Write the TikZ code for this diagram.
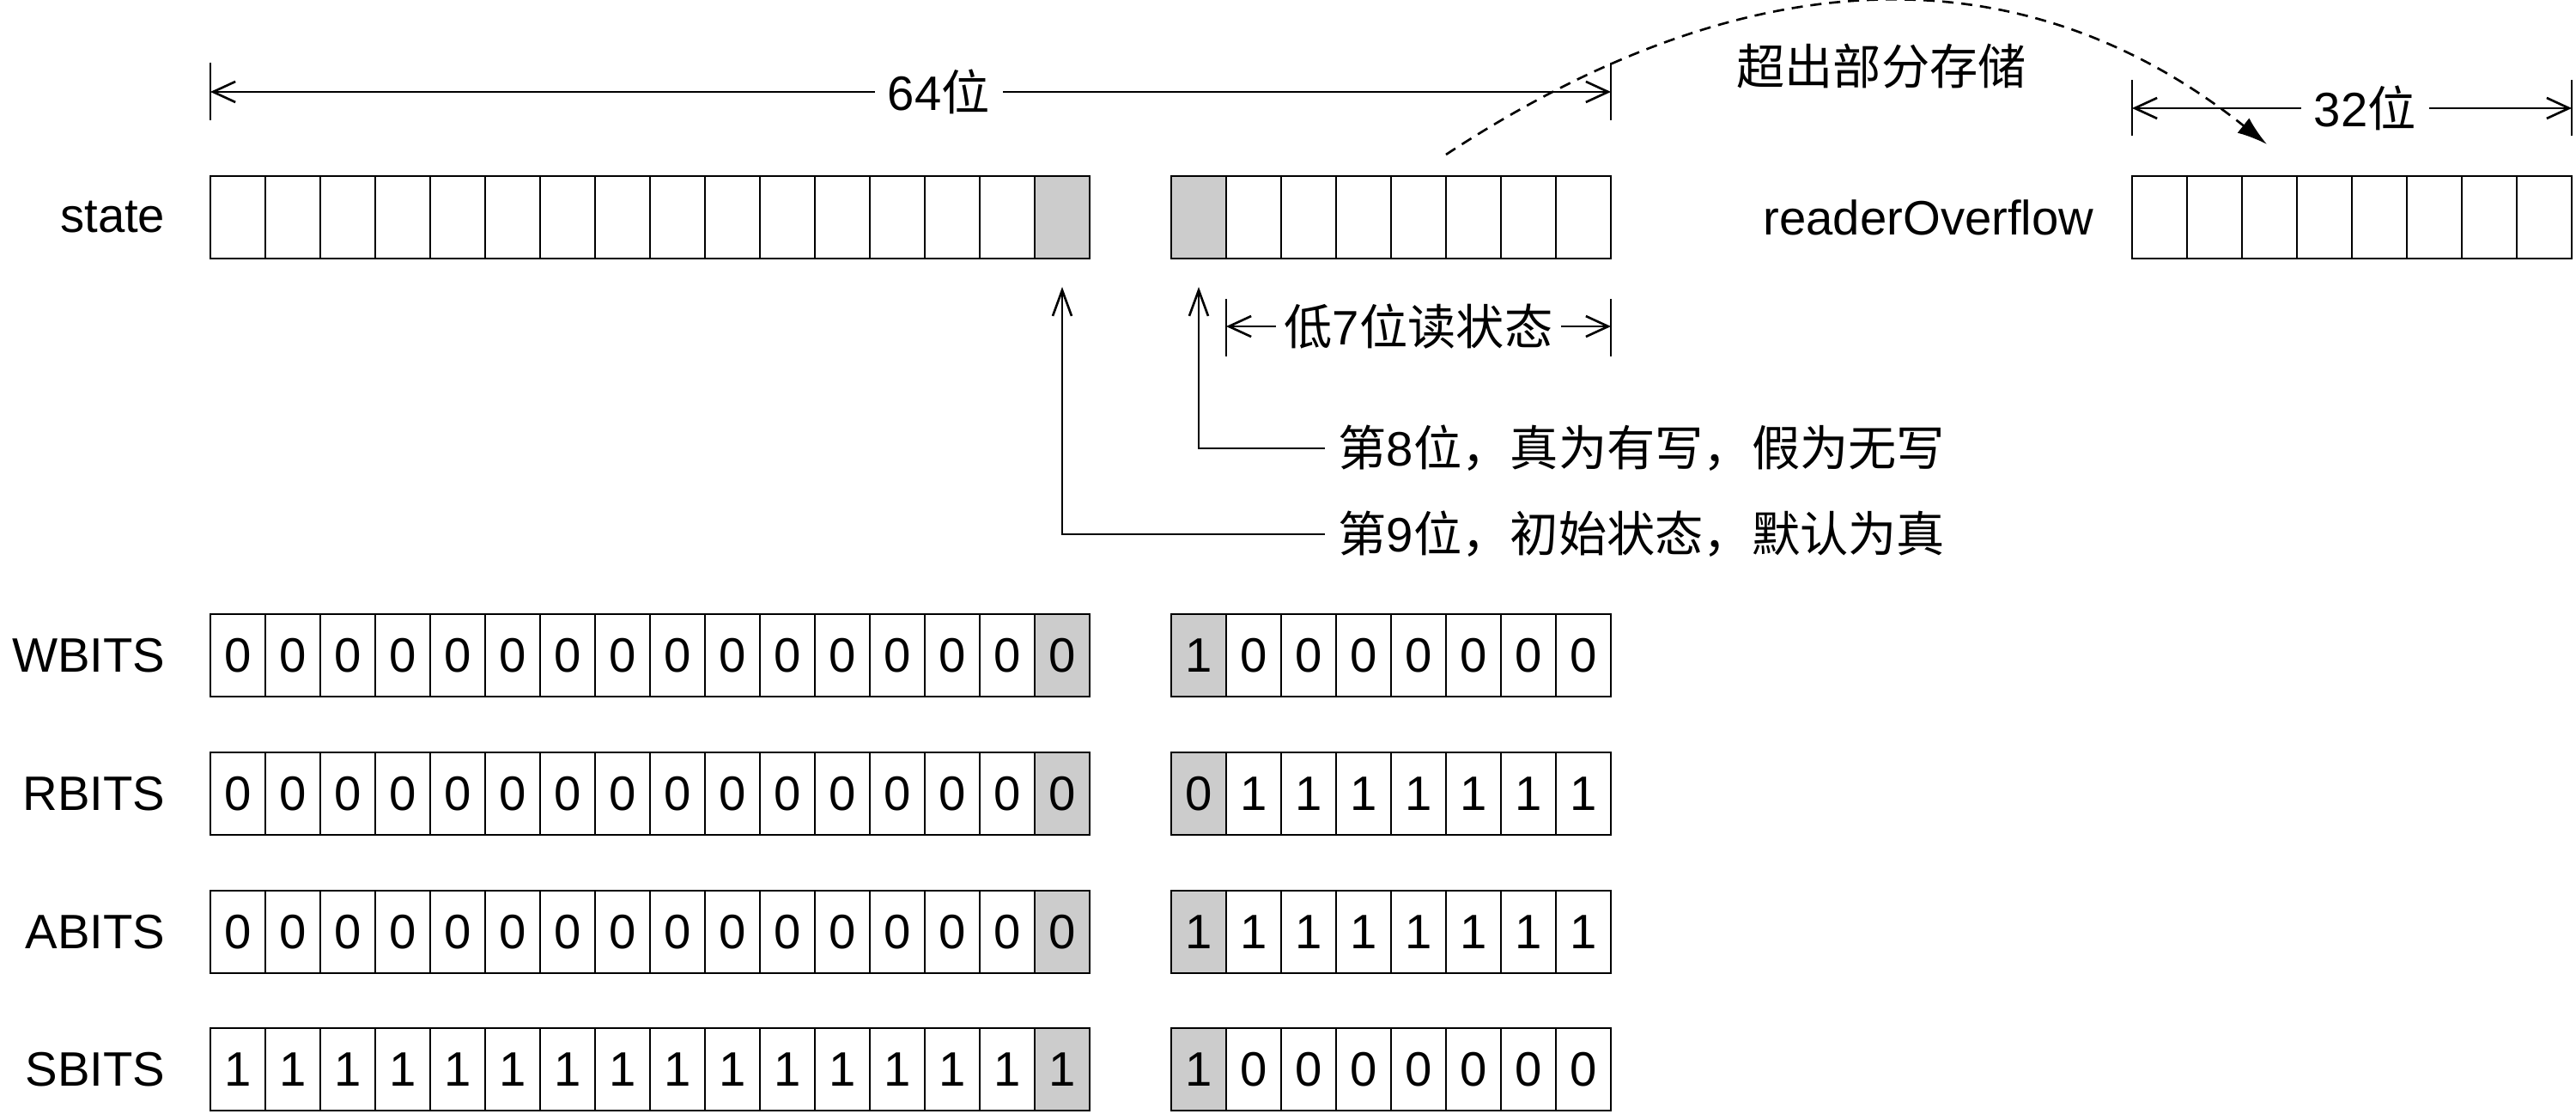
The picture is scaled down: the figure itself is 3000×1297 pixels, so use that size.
\documentclass[tikz,border=0pt]{standalone}
\usepackage{fontspec}
\setmainfont{Liberation Sans}
\newfontfamily\cjk{Noto Sans CJK SC}
\usetikzlibrary{arrows.meta, positioning, calc}
\definecolor{bitgray}{RGB}{204,204,204}

\begin{document}
\begin{tikzpicture}[
		x=0.01cm, y=-0.01cm,
		font=\fontsize{16}{20}\selectfont,
		node distance=0.5cm,
		cell/.style={draw, line width=0.8pt, minimum width=0.64cm,
			minimum height=0.96cm, inner sep=0pt, outer sep=0pt},
		rowname/.style={inner sep=0pt},
		tick/.style={line width=0.5pt},
		dim/.style={{Straight Barb[length=2.6mm, width=2.4mm]}-{Straight Barb[length=2.6mm, width=2.4mm]}, line width=0.75pt},
		dimtext/.style={fill=white, inner sep=0.15cm},
		ptr/.style={-{Straight Barb[length=3mm, width=2.2mm]}, line width=0.75pt},
		spillarrow/.style={-{Latex[length=3.5mm, width=2.2mm]}, line width=0.75pt, dash pattern=on 1.3mm off 0.9mm},
		note/.style={anchor=west, inner sep=0.15cm}
	]
		\useasboundingbox (0,0) rectangle (3000,1297);

		% state
		\foreach \i in {1,...,16} {
			\ifnum\i=16 \colorlet{cellfill}{bitgray}\else\colorlet{cellfill}{white}\fi
			\node[cell, fill=cellfill] (st-h\i) at ({213+64*\i},253) {};
		}
		\foreach \i in {1,...,8} {
			\ifnum\i=1 \colorlet{cellfill}{bitgray}\else\colorlet{cellfill}{white}\fi
			\node[cell, fill=cellfill] (st-l\i) at ({1332+64*\i},253) {};
		}
		\node[rowname, left=0.52cm of st-h1] (stname) {state};

		% readerOverflow
		\foreach \i in {1,...,8}
			\node[cell] (ro\i) at ({2451+64*\i},253) {};
		\node[rowname, left=0.44cm of ro1] (roname) {readerOverflow};

		% WBITS / RBITS / ABITS / SBITS
		\foreach \row/\name/\yy/\hb/\lb in {
				wb/WBITS/763/0/{1,0,0,0,0,0,0,0},
				rb/RBITS/924/0/{0,1,1,1,1,1,1,1},
				ab/ABITS/1085/0/{1,1,1,1,1,1,1,1},
				sb/SBITS/1245/1/{1,0,0,0,0,0,0,0}} {
			\foreach \i in {1,...,16} {
				\ifnum\i=16 \colorlet{cellfill}{bitgray}\else\colorlet{cellfill}{white}\fi
				\node[cell, fill=cellfill] (\row-h\i) at ({213+64*\i},\yy) {\hb};
			}
			\foreach \b [count=\i] in \lb {
				\ifnum\i=1 \colorlet{cellfill}{bitgray}\else\colorlet{cellfill}{white}\fi
				\node[cell, fill=cellfill] (\row-l\i) at ({1332+64*\i},\yy) {\b};
			}
			\node[rowname, left=0.52cm of \row-h1] (\row-name) {\name};
		}

		% 64位
		\coordinate (d64l) at ($(st-h1.north west)+(0,-98)$);
		\coordinate (d64r) at ($(st-l8.north east)+(0,-98)$);
		\draw[tick] (d64l) ++(0,-34) -- ++(0,67);
		\draw[tick] (d64r) ++(0,-34) -- ++(0,67);
		\draw[dim] (d64l) -- node[dimtext, pos=0.52] (t64) {64{\cjk 位}} (d64r);

		% 32位
		\coordinate (d32l) at ($(ro1.north west)+(0,-79)$);
		\coordinate (d32r) at ($(ro8.north east)+(0,-79)$);
		\draw[tick] (d32l) ++(0,-33) -- ++(0,65);
		\draw[tick] (d32r) ++(0,-33) -- ++(0,65);
		\draw[dim] (d32l) -- node[dimtext, pos=0.53] (t32) {32{\cjk 位}} (d32r);

		% 低7位
		\coordinate (d7l) at ($(st-l2.south west)+(0,79)$);
		\coordinate (d7r) at ($(st-l8.south east)+(0,79)$);
		\draw[tick] (d7l) ++(0,-32) -- ++(0,67);
		\draw[tick] (d7r) ++(0,-32) -- ++(0,67);
		\draw[dim] (d7l) -- node[dimtext, inner sep=0.1cm] (t7) {{\cjk 低}7{\cjk 位读状态}} (d7r);

		% 超出部分
		\coordinate (spill) at ($(st-l6.north west)+(0,-25)$);
		\coordinate (spillend) at ($(ro3.north)+(-3,-37)$);
		\draw[spillarrow] (spill) .. controls +(355,-233) and +(-283,-225) .. (spillend);
		\node (spilltxt) at (2191,77) {\cjk 超出部分存储};

		% 第8位 / 第9位
		\node[note] (bit8) at (1543,522) {{\cjk 第}8{\cjk 位，真为有写，假为无写}};
		\node[note] (bit9) at (1543,622) {{\cjk 第}9{\cjk 位，初始状态，默认为真}};
		\draw[ptr] (bit8.west) -| ($(st-l1.south)+(0,33)$);
		\draw[ptr] (bit9.west) -| ($(st-h16.south)+(0,33)$);
	\end{tikzpicture}
\end{document}
